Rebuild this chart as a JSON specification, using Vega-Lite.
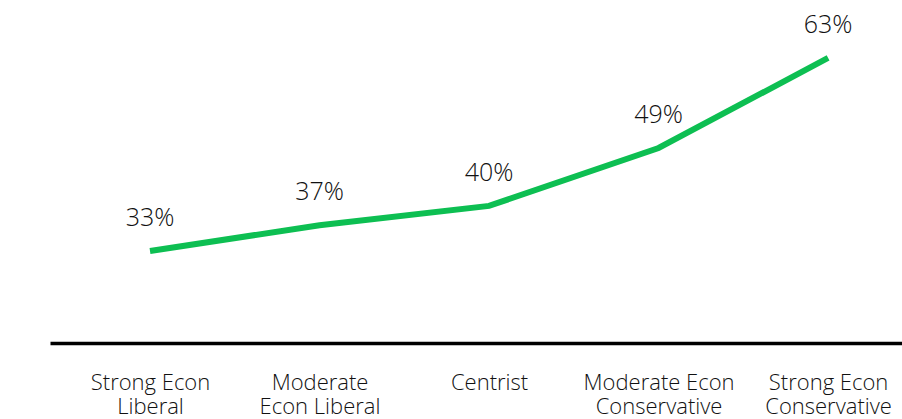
{
  "$schema": "https://vega.github.io/schema/vega-lite/v6.json",
  "autosize": {"type": "none"},
  "padding": {"left": 50, "top": 0, "right": 0, "bottom": 76},
  "width": 852,
  "height": 343,
  "background": "white",
  "config": {"view": {"stroke": null}, "font": "Open Sans"},
  "data": {
    "values": [
      {"group": "Strong Econ Liberal", "share": 0.33},
      {"group": "Moderate Econ Liberal", "share": 0.37},
      {"group": "Centrist", "share": 0.40},
      {"group": "Moderate Econ Conservative", "share": 0.49},
      {"group": "Strong Econ Conservative", "share": 0.63}
    ]
  },
  "encoding": {
    "x": {
      "field": "group",
      "type": "nominal",
      "sort": null,
      "scale": {"type": "point", "padding": 0.513, "align": 0.575},
      "axis": {
        "title": null,
        "labelAngle": 0,
        "ticks": false,
        "grid": false,
        "domainColor": "#000000",
        "domainWidth": 3.5,
        "labelFont": "Open Sans",
        "labelFontSize": 22,
        "labelFontWeight": 300,
        "labelColor": "#111111",
        "labelBaseline": "top",
        "labelPadding": 29,
        "labelLineHeight": 24,
        "labelExpr": "datum.value == 'Strong Econ Liberal' ? ['Strong Econ', 'Liberal'] : datum.value == 'Moderate Econ Liberal' ? ['Moderate', 'Econ Liberal'] : datum.value == 'Moderate Econ Conservative' ? ['Moderate Econ', 'Conservative'] : datum.value == 'Strong Econ Conservative' ? ['Strong Econ', 'Conservative'] : datum.value"
      }
    },
    "y": {
      "field": "share",
      "type": "quantitative",
      "scale": {"domain": [0.187, 0.72], "zero": false, "nice": false},
      "axis": null
    }
  },
  "layer": [
    {"mark": {"type": "line", "color": "#0DBF52", "strokeWidth": 6, "strokeCap": "butt", "strokeJoin": "miter"}},
    {
      "mark": {"type": "text", "dy": -25, "baseline": "alphabetic", "fontSize": 25, "fontWeight": 300, "font": "Open Sans", "color": "#111111"},
      "encoding": {"text": {"field": "share", "type": "quantitative", "format": ".0%"}}
    }
  ]
}
